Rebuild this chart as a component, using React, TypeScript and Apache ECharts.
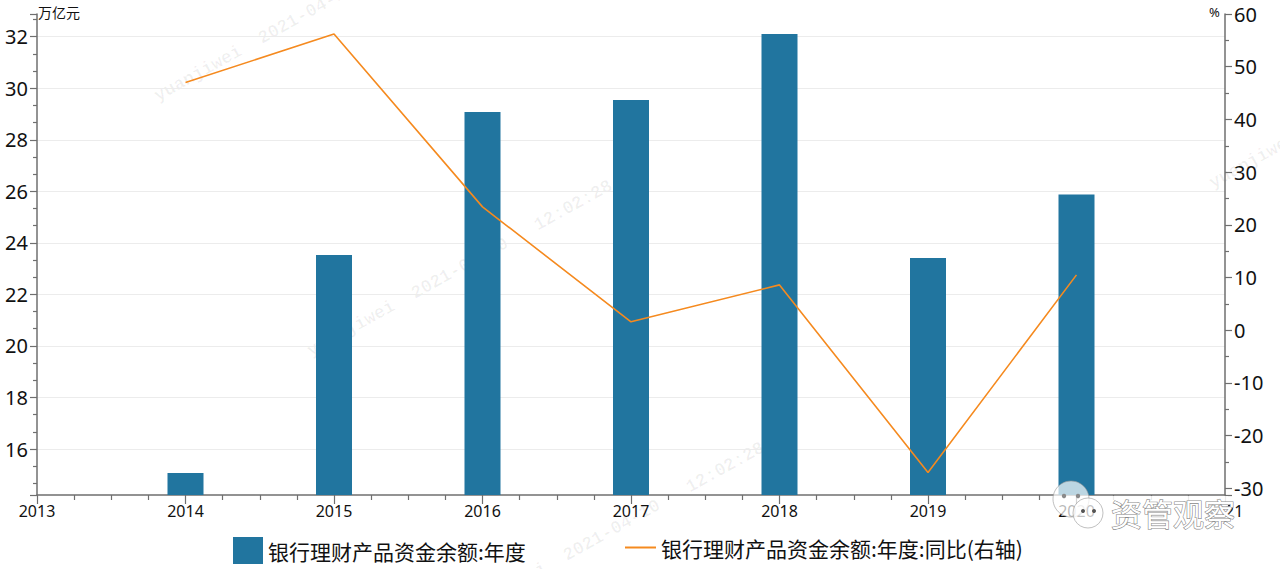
import React, { useEffect, useRef } from "react";
import * as echarts from "echarts";

const years = [2014, 2015, 2016, 2017, 2018, 2019, 2020];
const balance = [15.07, 23.53, 29.08, 29.54, 32.1, 23.41, 25.88];
const yoy = [47.0, 56.2, 23.4, 1.6, 8.6, -27.0, 10.5];
const seriesNames = ["银行理财产品资金余额:年度", "银行理财产品资金余额:年度:同比(右轴)"];
const leftUnit = "万亿元";
const rightUnit = "%";
const watermarkText = "yuanjiwei  2021-04-10   12:02:28";
const brandText = "资管观察";

const BAR = "#21759f";
const LINE = "#f58a1f";
const AXIS = "#6f6f6f";
const NUMFONT = "'Noto Sans', 'Open Sans', sans-serif";
const CJK = "'Noto Sans CJK SC', sans-serif";

export default function App() {
  const ref = useRef<HTMLDivElement>(null);
  useEffect(() => {
    if (!ref.current) return;
    const chart = echarts.init(ref.current, undefined, { renderer: "svg" });
    const wmPos = [
      [160, 105],
      [313, 360],
      [465, 622],
      [1215, 192],
    ];
    const rot = (29 * Math.PI) / 180;
    const watermarks = wmPos.map(([x, y]) => ({
      type: "text",
      x,
      y,
      rotation: rot,
      silent: true,
      z: 0,
      style: {
        text: watermarkText,
        fill: "rgba(0,0,0,0.06)",
        fontSize: 18,
        fontWeight: "bold",
        fontFamily: "'Liberation Mono', 'DejaVu Sans Mono', monospace",
        verticalAlign: "bottom",
        align: "left",
      },
    }));
    const legendText = { fontFamily: CJK, fontSize: 21, color: "#111" };
    chart.setOption({
      animation: false,
      backgroundColor: "#ffffff",
      grid: {
        left: 37,
        right: 55,
        top: 14,
        bottom: 74,
        containLabel: false,
        outerBoundsMode: "none",
      },
      legend: [
        {
          left: 228,
          top: 532,
          itemWidth: 30,
          itemHeight: 27,
          itemGap: 0,
          textStyle: legendText,
          data: [{ name: seriesNames[0], icon: "rect" }],
        },
        {
          left: 620,
          top: 532,
          itemWidth: 31,
          itemHeight: 2,
          itemGap: 0,
          textStyle: legendText,
          data: [{ name: seriesNames[1], icon: "rect", itemStyle: { color: LINE } }],
        },
      ],
      xAxis: {
        type: "value",
        min: 2013,
        max: 2021,
        interval: 1,
        axisLine: { show: true, onZero: false, lineStyle: { color: AXIS, width: 1.5 } },
        axisTick: { show: true, length: 9, lineStyle: { color: AXIS, width: 1.2 } },
        minorTick: { show: true, splitNumber: 4, length: 5, lineStyle: { color: AXIS, width: 1.2 } },
        splitLine: { show: false },
        axisLabel: {
          formatter: (v: number) => String(v),
          fontFamily: NUMFONT,
          fontSize: 16,
          color: "#111",
          margin: 8,
        },
      },
      yAxis: [
        {
          type: "value",
          min: 14.215,
          max: 32.88,
          splitNumber: 9,
          position: "left",
          axisLine: { show: true, onZero: false, lineStyle: { color: AXIS, width: 1.5 } },
          axisTick: { show: true, length: 7, lineStyle: { color: AXIS, width: 1.2 } },
          minorTick: { show: true, splitNumber: 3, length: 4, lineStyle: { color: AXIS, width: 1.2 } },
          splitLine: { show: true, showMinLine: false, showMaxLine: false, lineStyle: { color: "#ececec", width: 1 } },
          axisLabel: {
            showMinLabel: false,
            showMaxLabel: false,
            fontFamily: NUMFONT,
            fontSize: 20,
            color: "#111",
            margin: 9,
          },
        },
        {
          type: "value",
          min: -31.27,
          max: 60,
          splitNumber: 9,
          position: "right",
          axisLine: { show: true, onZero: false, lineStyle: { color: AXIS, width: 1.5 } },
          axisTick: { show: true, length: 7, lineStyle: { color: AXIS, width: 1.2 } },
          minorTick: { show: true, splitNumber: 2, length: 4, lineStyle: { color: AXIS, width: 1.2 } },
          splitLine: { show: false },
          axisLabel: {
            showMinLabel: false,
            fontFamily: NUMFONT,
            fontSize: 20,
            color: "#111",
            margin: 9,
          },
        },
      ],
      series: [
        {
          name: seriesNames[0],
          type: "bar",
          yAxisIndex: 0,
          barWidth: 36,
          itemStyle: { color: BAR },
          data: years.map((y, i) => [y, balance[i]]),
          z: 2,
        },
        {
          name: seriesNames[1],
          type: "line",
          yAxisIndex: 1,
          symbol: "none",
          lineStyle: { color: LINE, width: 1.6 },
          itemStyle: { color: LINE },
          data: years.map((y, i) => [y, yoy[i]]),
          z: 3,
        },
      ],
      graphic: [
        ...watermarks,
        {
          type: "text",
          left: 38,
          top: 5,
          silent: true,
          style: { text: leftUnit, fontSize: 14, fontFamily: CJK, fill: "#111" },
        },
        {
          type: "text",
          left: 1209,
          top: 5,
          silent: true,
          style: { text: rightUnit, fontSize: 13, fontFamily: NUMFONT, fill: "#111" },
        },
        {
          type: "group",
          z: 100,
          silent: true,
          children: [
            {
              type: "circle",
              z: 100,
              shape: { cx: 1071, cy: 499, r: 18 },
              style: { fill: "rgba(255,255,255,0.7)", stroke: "rgba(150,150,150,0.6)", lineWidth: 1 },
            },
            {
              type: "circle",
              z: 100,
              shape: { cx: 1088, cy: 513, r: 15 },
              style: { fill: "rgba(255,255,255,0.75)", stroke: "rgba(150,150,150,0.6)", lineWidth: 1 },
            },
            { type: "circle", z: 101, shape: { cx: 1064, cy: 496, r: 2.2 }, style: { fill: "#8a8a8a" } },
            { type: "circle", z: 101, shape: { cx: 1078, cy: 496, r: 2.2 }, style: { fill: "#8a8a8a" } },
            { type: "circle", z: 101, shape: { cx: 1083, cy: 511, r: 2 }, style: { fill: "#555" } },
            { type: "circle", z: 101, shape: { cx: 1094, cy: 511, r: 2 }, style: { fill: "#555" } },
            {
              type: "rect",
              z: 100,
              shape: { x: 1110, y: 496, width: 118, height: 32 },
              style: { fill: "rgba(255,255,255,0.85)" },
            },
            {
              type: "text",
              z: 101,
              x: 1111,
              y: 512,
              style: {
                text: brandText,
                fontSize: 31,
                fontFamily: CJK,
                fill: "#ffffff",
                stroke: "#8a8a8a",
                lineWidth: 1.2,
                verticalAlign: "middle",
                align: "left",
              },
            },
          ],
        },
      ],
    });
    return () => chart.dispose();
  }, []);
  return (
    <div
      ref={ref}
      style={{ position: "fixed", left: 0, top: 0, width: 1280, height: 569 }}
    />
  );
}
